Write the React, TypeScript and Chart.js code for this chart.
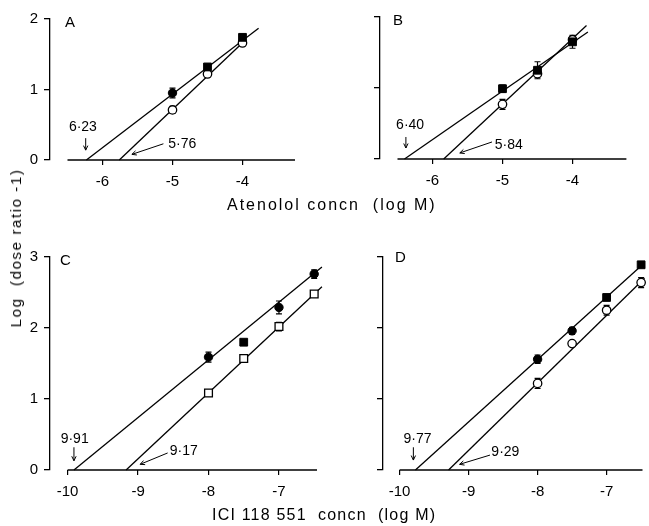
import React, { useEffect, useRef } from 'react';
import { Chart, registerables } from 'chart.js';

Chart.register(...registerables);

const FONT = '"Liberation Sans", Arial, sans-serif';

// ---------- Data ----------
// Panels A & B: atenolol concentration (log M)
const atenololConc = [-5, -4.5, -4];
const aFilled = [0.95, 1.32, 1.74];
const aFilledErr = [0.07, 0.03, 0.03];
const aOpen = [0.71, 1.22, 1.66];
const aOpenErr = [0.05, 0.03, 0.03];
const aFitFilledX = [-6.23, -3.77];
const aFitFilledY = [0, 1.87];
const aFitOpenX = [-5.76, -3.98];
const aFitOpenY = [0, 1.68];

const bFilled = [0.99, 1.25, 1.65];
const bFilledErr = [0.05, 0.12, 0.09];
const bOpen = [0.77, 1.2, 1.68];
const bOpenErr = [0.07, 0.03, 0.03];
const bFitFilledX = [-6.4, -3.78];
const bFitFilledY = [0, 1.79];
const bFitOpenX = [-5.84, -3.8];
const bFitOpenY = [0, 1.88];

// Panels C & D: ICI 118 551 concentration (log M)
const iciConc = [-8, -7.5, -7, -6.5];
const cFilled = [1.59, 1.8, 2.29, 2.76];
const cFilledErr = [0.07, 0.0, 0.09, 0.06];
const cOpen = [1.085, 1.57, 2.02, 2.48];
const cOpenErr = [0.04, 0.04, 0.06, 0.03];
const cFitFilledX = [-9.91, -6.39];
const cFitFilledY = [0, 2.86];
const cFitOpenX = [-9.17, -6.39];
const cFitOpenY = [0, 2.58];

const dFilled = [1.56, 1.96, 2.43, 2.89];
const dFilledErr = [0.06, 0.05, 0.02, 0.02];
const dOpen = [1.22, 1.78, 2.25, 2.64];
const dOpenErr = [0.07, 0.03, 0.07, 0.07];
const dFitFilledX = [-9.77, -6.45];
const dFitFilledY = [0, 2.92];
const dFitOpenX = [-9.29, -6.45];
const dFitOpenY = [0, 2.7];

// x-intercept labels (pA2 values)
const aNotes = ['6·23', '5·76'];
const bNotes = ['6·40', '5·84'];
const cNotes = ['9·91', '9·17'];
const dNotes = ['9·77', '9·29'];

const yTickStep = 1;
const xTickStep = 1;

// ---------- Panel layout ----------
type Note = { text: string; x: number; y: number; align: CanvasTextAlign; ax: number[]; ay: number[] };
type Panel = {
  letter: string;
  box: { left: number; top: number; width: number; height: number };
  yAxisW: number; xAxisH: number; padTop: number; padRight: number;
  xMin: number; xMax: number; yMax: number; yLabels: boolean;
  baseline: number[];
  conc: number[];
  filled: number[]; filledErr: number[]; filledStyle: string[];
  open: number[]; openErr: number[]; openStyle: string[];
  fitF: [number[], number[]]; fitO: [number[], number[]];
  notes: Note[];
  letterDx: number; letterDy: number;
};

const panels: Panel[] = [
  {
    letter: 'A',
    box: { left: 0, top: 0, width: 320, height: 200 },
    yAxisW: 50, xAxisH: 40, padTop: 19, padRight: 25,
    xMin: -6.75, xMax: -3.25, yMax: 2, yLabels: true,
    baseline: [-6.5, -3.25],
    conc: atenololConc,
    filled: aFilled, filledErr: aFilledErr, filledStyle: ['circle', 'rect', 'rect'],
    open: aOpen, openErr: aOpenErr, openStyle: ['circle', 'circle', 'circle'],
    fitF: [aFitFilledX, aFitFilledY], fitO: [aFitOpenX, aFitOpenY],
    notes: [
      { text: aNotes[0], x: -6.28, y: 0.47, align: 'center', ax: [-6.24, -6.24], ay: [0.31, 0.14] },
      { text: aNotes[1], x: -5.06, y: 0.23, align: 'left', ax: [-5.13, -5.58], ay: [0.23, 0.08] },
    ],
    letterDx: 15, letterDy: 4,
  },
  {
    letter: 'B',
    box: { left: 320, top: 0, width: 329, height: 200 },
    yAxisW: 60, xAxisH: 41, padTop: 17, padRight: 24,
    xMin: -6.75, xMax: -3.25, yMax: 2, yLabels: false,
    baseline: [-6.5, -3.23],
    conc: atenololConc,
    filled: bFilled, filledErr: bFilledErr, filledStyle: ['rect', 'rect', 'rect'],
    open: bOpen, openErr: bOpenErr, openStyle: ['circle', 'circle', 'circle'],
    fitF: [bFitFilledX, bFitFilledY], fitO: [bFitOpenX, bFitOpenY],
    notes: [
      { text: bNotes[0], x: -6.32, y: 0.48, align: 'center', ax: [-6.38, -6.38], ay: [0.31, 0.155] },
      { text: bNotes[1], x: -5.11, y: 0.2, align: 'left', ax: [-5.15, -5.61], ay: [0.24, 0.085] },
    ],
    letterDx: 13, letterDy: 4,
  },
  {
    letter: 'C',
    box: { left: 0, top: 210, width: 330, height: 300 },
    yAxisW: 50, xAxisH: 40, padTop: 47, padRight: 13,
    xMin: -10.25, xMax: -6.46, yMax: 3, yLabels: true,
    baseline: [-10, -6.46],
    conc: iciConc,
    filled: cFilled, filledErr: cFilledErr, filledStyle: ['circle', 'rect', 'circle', 'circle'],
    open: cOpen, openErr: cOpenErr, openStyle: ['rect', 'rect', 'rect', 'rect'],
    fitF: [cFitFilledX, cFitFilledY], fitO: [cFitOpenX, cFitOpenY],
    notes: [
      { text: cNotes[0], x: -9.9, y: 0.435, align: 'center', ax: [-9.91, -9.91], ay: [0.32, 0.13] },
      { text: cNotes[1], x: -8.55, y: 0.27, align: 'left', ax: [-8.58, -8.97], ay: [0.24, 0.08] },
    ],
    letterDx: 10, letterDy: 4,
  },
  {
    letter: 'D',
    box: { left: 320, top: 210, width: 329, height: 300 },
    yAxisW: 63, xAxisH: 40, padTop: 47, padRight: 0,
    xMin: -10.24, xMax: -6.48, yMax: 3, yLabels: false,
    baseline: [-10, -6.48],
    conc: iciConc,
    filled: dFilled, filledErr: dFilledErr, filledStyle: ['circle', 'circle', 'rect', 'rect'],
    open: dOpen, openErr: dOpenErr, openStyle: ['circle', 'circle', 'circle', 'circle'],
    fitF: [dFitFilledX, dFitFilledY], fitO: [dFitOpenX, dFitOpenY],
    notes: [
      { text: dNotes[0], x: -9.74, y: 0.435, align: 'center', ax: [-9.8, -9.8], ay: [0.32, 0.14] },
      { text: dNotes[1], x: -8.67, y: 0.25, align: 'left', ax: [-8.69, -9.13], ay: [0.21, 0.08] },
    ],
    letterDx: 12, letterDy: 1,
  },
];

const radiusFor = (s: string) => (s === 'rect' ? 5.5 : 4.2);
const pts = (xs: number[], ys: number[]) => xs.map((x, i) => ({ x, y: ys[i] }));

function makeExtras(p: Panel) {
  return {
    id: 'extras' + p.letter,
    beforeDatasetsDraw(chart: any) {
      const { ctx, scales } = chart;
      const xs = scales.x, ys = scales.y;
      ctx.save();
      ctx.strokeStyle = '#000';
      ctx.lineWidth = 1.2;
      const series = [
        [p.filled, p.filledErr],
        [p.open, p.openErr],
      ];
      series.forEach(([vals, errs]) => {
        vals.forEach((v, i) => {
          const e = errs[i];
          if (!e) return;
          const px = xs.getPixelForValue(p.conc[i]);
          const t = ys.getPixelForValue(v + e);
          const b = ys.getPixelForValue(v - e);
          ctx.beginPath();
          ctx.moveTo(px, t); ctx.lineTo(px, b);
          ctx.moveTo(px - 3, t); ctx.lineTo(px + 3, t);
          ctx.moveTo(px - 3, b); ctx.lineTo(px + 3, b);
          ctx.stroke();
        });
      });
      ctx.restore();
    },
    afterDatasetsDraw(chart: any) {
      const { ctx, scales, chartArea } = chart;
      const xs = scales.x, ys = scales.y;
      ctx.save();
      ctx.fillStyle = '#000';
      ctx.strokeStyle = '#000';
      ctx.lineWidth = 1;
      ctx.font = `14px ${FONT}`;
      ctx.textBaseline = 'middle';
      p.notes.forEach((n) => {
        ctx.textAlign = n.align;
        ctx.fillText(n.text, xs.getPixelForValue(n.x), ys.getPixelForValue(n.y));
        const x1 = xs.getPixelForValue(n.ax[0]), y1 = ys.getPixelForValue(n.ay[0]);
        const x2 = xs.getPixelForValue(n.ax[1]), y2 = ys.getPixelForValue(n.ay[1]);
        ctx.beginPath();
        ctx.moveTo(x1, y1); ctx.lineTo(x2, y2);
        const ang = Math.atan2(y2 - y1, x2 - x1);
        const hl = 5, ha = 0.45;
        ctx.moveTo(x2, y2); ctx.lineTo(x2 - hl * Math.cos(ang - ha), y2 - hl * Math.sin(ang - ha));
        ctx.moveTo(x2, y2); ctx.lineTo(x2 - hl * Math.cos(ang + ha), y2 - hl * Math.sin(ang + ha));
        ctx.stroke();
      });
      ctx.font = `15px ${FONT}`;
      ctx.textAlign = 'left';
      ctx.fillText(p.letter, chartArea.left + p.letterDx, chartArea.top + p.letterDy);
      ctx.restore();
    },
  };
}

function PanelChart({ p }: { p: Panel }) {
  const ref = useRef<HTMLCanvasElement | null>(null);
  useEffect(() => {
    if (!ref.current) return;
    const black = '#000';
    const chart = new Chart(ref.current, {
      type: 'line',
      data: {
        datasets: [
          {
            label: 'filled',
            data: pts(p.conc, p.filled),
            showLine: false,
            pointStyle: p.filledStyle as any,
            pointRadius: p.filledStyle.map(radiusFor),
            pointBackgroundColor: black,
            pointBorderColor: black,
            pointBorderWidth: 1,
            clip: false,
          } as any,
          {
            label: 'open',
            data: pts(p.conc, p.open),
            showLine: false,
            pointStyle: p.openStyle as any,
            pointRadius: p.openStyle.map(radiusFor),
            pointBackgroundColor: '#fff',
            pointBorderColor: black,
            pointBorderWidth: 1.3,
            clip: false,
          } as any,
          {
            label: 'fitFilled',
            data: pts(p.fitF[0], p.fitF[1]),
            borderColor: black,
            borderWidth: 1.3,
            pointRadius: 0,
            clip: false,
          } as any,
          {
            label: 'fitOpen',
            data: pts(p.fitO[0], p.fitO[1]),
            borderColor: black,
            borderWidth: 1.3,
            pointRadius: 0,
            clip: false,
          } as any,
          {
            label: 'baseline',
            data: pts(p.baseline, [0, 0]),
            borderColor: black,
            borderWidth: 1.3,
            pointRadius: 0,
            clip: false,
          } as any,
        ],
      },
      options: {
        responsive: false,
        animation: false,
        devicePixelRatio: 1,
        layout: { padding: { top: p.padTop, right: p.padRight, left: 0, bottom: 0 } },
        plugins: { legend: { display: false }, tooltip: { enabled: false }, title: { display: false } },
        scales: {
          x: {
            type: 'linear',
            min: p.xMin,
            max: p.xMax,
            afterFit: (s: any) => { s.height = p.xAxisH; },
            border: { display: false },
            grid: { drawOnChartArea: false, drawTicks: true, tickLength: 5, color: black, lineWidth: 1.2 },
            ticks: {
              stepSize: xTickStep,
              includeBounds: false,
              color: black,
              font: { family: FONT, size: 15 },
              padding: 8,
              maxRotation: 0,
              callback: (v: any) => (Number(v) < 0 ? '-' + Math.abs(Number(v)) : String(v)),
            },
          },
          y: {
            type: 'linear',
            min: 0,
            max: p.yMax,
            afterFit: (s: any) => { s.width = p.yAxisW; },
            border: { display: true, color: black, width: 1.3 },
            grid: { drawOnChartArea: false, drawTicks: true, tickLength: 6, color: black, lineWidth: 1.3 },
            ticks: {
              stepSize: yTickStep,
              includeBounds: false,
              display: p.yLabels,
              color: black,
              font: { family: FONT, size: 15 },
              padding: 6,
            },
          },
        },
      } as any,
      plugins: [makeExtras(p)],
    });
    return () => chart.destroy();
  }, [p]);
  return (
    <canvas
      ref={ref}
      width={p.box.width}
      height={p.box.height}
      style={{ position: 'absolute', left: p.box.left, top: p.box.top, width: p.box.width, height: p.box.height }}
    />
  );
}

export default function App() {
  const textStyle: React.CSSProperties = {
    position: 'absolute',
    fontFamily: FONT,
    fontSize: 16,
    lineHeight: '18px',
    color: '#000',
    whiteSpace: 'nowrap',
  };
  return (
    <div style={{ position: 'absolute', left: 0, top: 0, width: 649, height: 526, background: '#fff', overflow: 'hidden' }}>
      {panels.map((p) => (
        <PanelChart key={p.letter} p={p} />
      ))}
      <div style={{ ...textStyle, left: 227, top: 196, letterSpacing: '2px' }}>Atenolol concn&nbsp;&nbsp;(log M)</div>
      <div style={{ ...textStyle, left: 212, top: 506, letterSpacing: '1.2px' }}>ICI 118 551&nbsp;&nbsp;concn&nbsp;&nbsp;(log M)</div>
      <div
        style={{
          ...textStyle,
          fontSize: 15,
          letterSpacing: '1.6px',
          left: 16,
          top: 248,
          transform: 'translate(-50%, -50%) rotate(-90deg)',
        }}
      >
        Log&nbsp;&nbsp;(dose ratio -1)
      </div>
    </div>
  );
}
